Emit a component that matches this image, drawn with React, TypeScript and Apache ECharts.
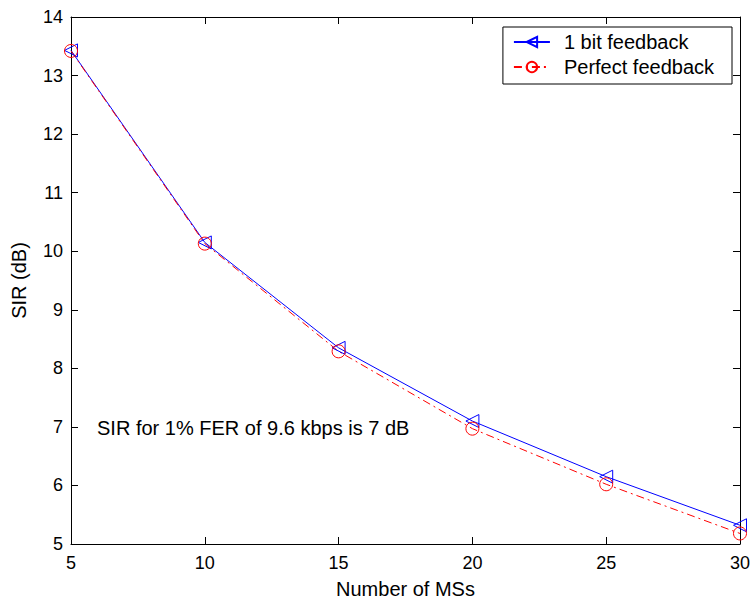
import React, { useEffect, useRef } from "react";
import * as echarts from "echarts";

const msCounts = [5, 10, 15, 20, 25, 30];
const oneBitFeedback = [13.43, 10.15, 8.35, 7.1, 6.15, 5.32];
const perfectFeedback = [13.42, 10.13, 8.29, 6.97, 6.02, 5.18];
const seriesNames = ["1 bit feedback", "Perfect feedback"];
const annotation = "SIR for 1% FER of 9.6 kbps is 7 dB";
const xTitle = "Number of MSs";
const yTitle = "SIR (dB)";

const FONT = "'Liberation Sans', Arial, sans-serif";

export default function App() {
  const ref = useRef<HTMLDivElement>(null);
  useEffect(() => {
    if (!ref.current) return;
    const chart = echarts.init(ref.current, undefined, { renderer: "svg" });
    const tick = { show: true, inside: true, length: 7, lineStyle: { color: "#000" } };
    const axisLine = { show: true, onZero: false, lineStyle: { color: "#000", width: 1 } };
    const pairs = (ys: number[]) => msCounts.map((x, i) => [x, ys[i]]);
    chart.setOption({
      animation: false,
      backgroundColor: "#fff",
      textStyle: { fontFamily: FONT },
      grid: { left: 71, right: 10, top: 17, bottom: 59, containLabel: false },
      xAxis: [
        {
          type: "value",
          min: 5,
          max: 30,
          interval: 5,
          position: "bottom",
          axisLine,
          axisTick: tick,
          splitLine: { show: false },
          axisLabel: { color: "#000", fontSize: 18, fontFamily: FONT, margin: 10 },
          name: xTitle,
          nameLocation: "middle",
          nameGap: 35,
          nameTextStyle: { color: "#000", fontSize: 20, fontFamily: FONT },
        },
        {
          type: "value",
          min: 5,
          max: 30,
          interval: 5,
          position: "top",
          axisLine,
          axisTick: tick,
          splitLine: { show: false },
          axisLabel: { show: false },
        },
      ],
      yAxis: [
        {
          type: "value",
          min: 5,
          max: 14,
          interval: 1,
          position: "left",
          axisLine,
          axisTick: tick,
          splitLine: { show: false },
          axisLabel: { color: "#000", fontSize: 18, fontFamily: FONT, margin: 8 },
          name: yTitle,
          nameLocation: "middle",
          nameGap: 42,
          nameTextStyle: { color: "#000", fontSize: 20, fontFamily: FONT },
        },
        {
          type: "value",
          min: 5,
          max: 14,
          interval: 1,
          position: "right",
          axisLine,
          axisTick: tick,
          splitLine: { show: false },
          axisLabel: { show: false },
        },
      ],
      legend: {
        right: 21,
        top: 27,
        orient: "vertical",
        backgroundColor: "#fff",
        borderColor: "#000",
        borderWidth: 1,
        borderRadius: 0,
        padding: [5, 18, 7, 10],
        itemGap: 5,
        itemWidth: 36,
        itemHeight: 13,
        textStyle: { color: "#000", fontSize: 20, fontFamily: FONT, padding: [0, 0, 0, 9] },
        data: seriesNames,
      },
      series: [
        {
          name: seriesNames[0],
          type: "line",
          data: pairs(oneBitFeedback),
          symbol: "triangle",
          symbolRotate: 90,
          symbolSize: 13,
          lineStyle: { color: "#0000ff", width: 1 },
          itemStyle: { color: "rgba(0,0,0,0)", borderColor: "#0000ff", borderWidth: 1 },
          emphasis: { disabled: true },
        },
        {
          name: seriesNames[1],
          type: "line",
          data: pairs(perfectFeedback),
          symbol: "circle",
          symbolSize: 13,
          lineStyle: { color: "#ff0000", width: 1, type: [8, 4, 2, 4] },
          itemStyle: { color: "rgba(0,0,0,0)", borderColor: "#ff0000", borderWidth: 1 },
          emphasis: { disabled: true },
        },
      ],
      graphic: [
        {
          type: "text",
          x: 97,
          y: 428,
          style: {
            text: annotation,
            fill: "#000",
            fontSize: 20,
            fontFamily: FONT,
            verticalAlign: "middle",
          },
        },
      ],
    });
    return () => chart.dispose();
  }, []);
  return (
    <div
      ref={ref}
      style={{ position: "fixed", left: 0, top: 0, width: 753, height: 604, background: "#fff" }}
    />
  );
}
